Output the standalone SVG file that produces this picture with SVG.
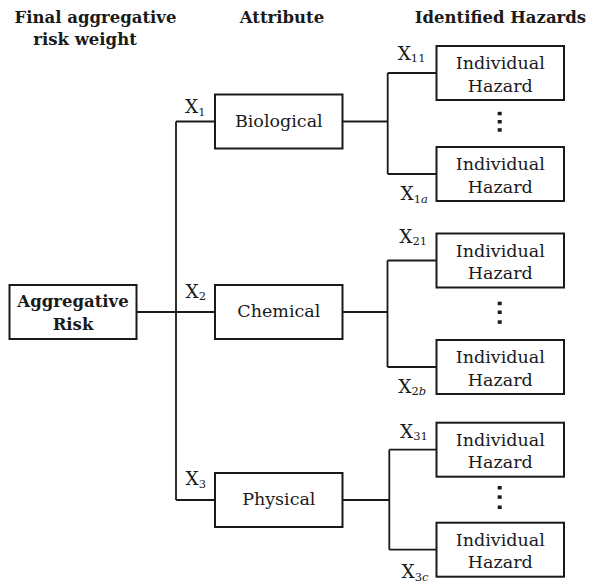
<svg xmlns="http://www.w3.org/2000/svg" width="592" height="582" viewBox="0 0 592 582" font-family="DejaVu Serif, serif">
<style>
.box{fill:#fff;stroke:#1a1a1a;stroke-width:2}
.ln{fill:none;stroke:#1a1a1a;stroke-width:1.8}
text{font-family:"DejaVu Serif",serif;fill:#1a1a1a}
.t{font-size:17.5px}
.b{font-weight:bold;font-size:16.5px}
.c{text-anchor:middle}
.x{font-size:18.5px}
.s{font-size:11.5px}
.i{font-style:italic}
.dot{fill:#1a1a1a}
</style>
<rect width="592" height="582" fill="#fff"/>
<g id="headers">
<text class="t b c" x="95.5" y="23">Final aggregative</text>
<text class="t b c" x="85" y="44.5">risk weight</text>
<text class="t b c" x="282" y="23">Attribute</text>
<text class="t b c" x="500.5" y="23">Identified Hazards</text>
</g>
<g id="connectors">
<path class="ln" d="M136.7 312 H176" stroke-width="2.6"/>
<path class="ln" d="M176 121.5 V500 M176 121.5 H215 M176 312 H215 M176 500 H215"/>
<path class="ln" d="M342.7 121.5 H387.7 M387.7 73 V174 M387.7 73 H436.5 M387.7 174 H436.5"/>
<path class="ln" d="M342.7 312 H387.5 M387.5 260.5 V367 M387.5 260.5 H436.5 M387.5 367 H436.5"/>
<path class="ln" d="M342.7 500 H389.3 M389.3 449.7 V549.7 M389.3 449.7 H436.5 M389.3 549.7 H436.5"/>
</g>
<g id="labels">
<text class="x" x="185" y="113">X<tspan class="s" dy="2.5">1</tspan></text>
<text class="x" x="185.5" y="297.5">X<tspan class="s" dy="2.5">2</tspan></text>
<text class="x" x="185.5" y="485">X<tspan class="s" dy="2.5">3</tspan></text>
<text class="x" x="397.7" y="59.5">X<tspan class="s" dy="2.5">11</tspan></text>
<text class="x" x="400.5" y="200">X<tspan class="s" dy="2.5">1<tspan class="i">a</tspan></tspan></text>
<text class="x" x="399.3" y="242.5">X<tspan class="s" dy="2.5">21</tspan></text>
<text class="x" x="398.3" y="392.7">X<tspan class="s" dy="2.5">2<tspan class="i">b</tspan></tspan></text>
<text class="x" x="400" y="437.5">X<tspan class="s" dy="2.5">31</tspan></text>
<text class="x" x="401.5" y="578">X<tspan class="s" dy="2.5">3<tspan class="i">c</tspan></tspan></text>
</g>
<g id="aggregative">
<rect class="box" x="9.5" y="285" width="127" height="54"/>
<text class="t b c" x="73" y="307.3">Aggregative</text>
<text class="t b c" x="73" y="330">Risk</text>
</g>
<g id="biological">
<rect class="box" x="215" y="94.5" width="127.5" height="54"/>
<text class="t c" x="278.8" y="127">Biological</text>
</g>
<g id="chemical">
<rect class="box" x="215" y="285" width="127.5" height="54"/>
<text class="t c" x="278.8" y="317">Chemical</text>
</g>
<g id="physical">
<rect class="box" x="215" y="473" width="127.5" height="54"/>
<text class="t c" x="278.8" y="505">Physical</text>
</g>
<g id="hazard-1-1">
<rect class="box" x="436.5" y="46" width="127.5" height="54"/>
<text class="t c" x="500.3" y="69">Individual</text>
<text class="t c" x="500.3" y="91.7">Hazard</text>
</g>
<g id="hazard-1-a">
<rect class="box" x="436.5" y="147" width="127.5" height="54"/>
<text class="t c" x="500.3" y="170">Individual</text>
<text class="t c" x="500.3" y="192.7">Hazard</text>
</g>
<g id="hazard-2-1">
<rect class="box" x="436.5" y="233.5" width="127.5" height="54"/>
<text class="t c" x="500.3" y="256.5">Individual</text>
<text class="t c" x="500.3" y="279.2">Hazard</text>
</g>
<g id="hazard-2-b">
<rect class="box" x="436.5" y="340" width="127.5" height="54"/>
<text class="t c" x="500.3" y="363">Individual</text>
<text class="t c" x="500.3" y="385.7">Hazard</text>
</g>
<g id="hazard-3-1">
<rect class="box" x="436.5" y="422.7" width="127.5" height="54"/>
<text class="t c" x="500.3" y="445.7">Individual</text>
<text class="t c" x="500.3" y="468.4">Hazard</text>
</g>
<g id="hazard-3-c">
<rect class="box" x="436.5" y="522.7" width="127.5" height="54"/>
<text class="t c" x="500.3" y="545.7">Individual</text>
<text class="t c" x="500.3" y="568.4">Hazard</text>
</g>
<g id="ellipses">
<rect class="dot" x="497.7" y="111.8" width="4" height="3.5"/>
<rect class="dot" x="497.7" y="120" width="4" height="3.5"/>
<rect class="dot" x="497.7" y="128.2" width="4" height="3.5"/>
<rect class="dot" x="497.7" y="301.7" width="4" height="3.5"/>
<rect class="dot" x="497.7" y="310.5" width="4" height="3.5"/>
<rect class="dot" x="497.7" y="320.3" width="4" height="3.5"/>
<rect class="dot" x="497.7" y="486" width="4" height="3.5"/>
<rect class="dot" x="497.7" y="495.3" width="4" height="3.5"/>
<rect class="dot" x="497.7" y="505.5" width="4" height="3.5"/>
</g>
</svg>
